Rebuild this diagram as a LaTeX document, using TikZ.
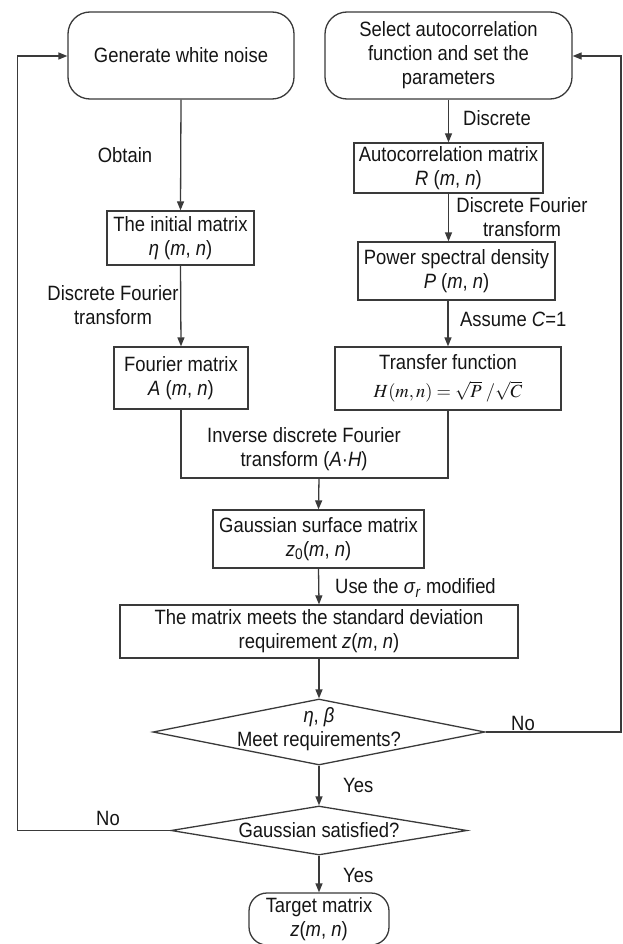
\documentclass[tikz,border=0pt]{standalone}
\usepackage{mathptmx}
\usepackage{fontspec}
\setmainfont{Liberation Sans}[FakeStretch=0.89]
\usetikzlibrary{arrows.meta,shapes.geometric,calc}
\definecolor{ln}{HTML}{3A3A3A}
\definecolor{tx}{HTML}{151515}
\begin{document}
\begin{tikzpicture}[x=1pt,y=-1pt,
  every node/.style={text=tx, font=\fontsize{20.7}{24}\selectfont},
  box/.style={draw=ln, line width=1.3pt, inner sep=0pt, align=center},
  rbox/.style={box, rounded corners=22pt},
  dia/.style={draw=ln, line width=1.3pt, shape=diamond, inner sep=0pt},
  conn/.style={draw=ln, line width=1.3pt},
  arr/.style={conn, -{Triangle[length=9pt,width=7pt]}},
  lbl/.style={inner sep=0pt, align=center}]
\fill[white] (0,0) rectangle (622,944);
\useasboundingbox (0,0) rectangle (622,944);

% nodes
\node[rbox, minimum width=226pt, minimum height=87pt] (gen) at (181,55.5) {Generate white noise};
\node[rbox, minimum width=247pt, minimum height=87pt] (sel) at (448.5,55.5) {Select autocorrelation\\function and set the\\parameters};
\node[box, minimum width=189pt, minimum height=50pt] (auto) at (448.5,168) {Autocorrelation matrix\\\textit{R} (\textit{m}, \textit{n})};
\node[box, minimum width=197pt, minimum height=58pt] (psd) at (456.5,271) {Power spectral density\\\textit{P} (\textit{m}, \textit{n})};
\node[box, minimum width=226pt, minimum height=63pt] (tf) at (448,378.5) {Transfer function\\[4pt]{\fontsize{18.5}{24}\selectfont$H(m,n)=\sqrt{P}\;/\sqrt{C}$}};
\node[box, minimum width=147pt, minimum height=54pt] (init) at (180.5,238) {The initial matrix\\\textit{η} (\textit{m}, \textit{n})};
\node[box, minimum width=134pt, minimum height=62pt] (four) at (181,378) {Fourier matrix\\\textit{A} (\textit{m}, \textit{n})};
\node[box, minimum width=211pt, minimum height=58pt] (gauss) at (318.5,539) {Gaussian surface matrix\\\textit{z}\textsubscript{0}(\textit{m}, \textit{n})};
\node[box, minimum width=398pt, minimum height=53pt] (std) at (319,631.5) {The matrix meets the standard deviation\\requirement \textit{z}(\textit{m}, \textit{n})};
\node[dia, minimum width=332pt, minimum height=66pt] (d1) at (319,732) {};
\node[lbl] (d1t) at (319,729) {\textit{η}, \textit{β}\\Meet requirements?};
\node[dia, minimum width=296pt, minimum height=49pt] (d2) at (319,830.5) {};
\node[lbl] (d2t) at (319,830.5) {Gaussian satisfied?};
\node[box, rounded corners=18pt, minimum width=140pt, minimum height=52pt] (tgt) at (319,919) {Target matrix\\\textit{z}(\textit{m}, \textit{n})};

% connectors
\draw[arr] (gen.south) -- (init.north);
\node[lbl] (l1) at (125,155) {Obtain};
\draw[arr] (sel.south) -- (auto.north);
\node[lbl] (l2) at (497,118) {Discrete};
\draw[arr] (auto.south) -- (auto.south |- psd.north);
\node[lbl] (l3) at (522,217) {Discrete Fourier\\transform};
\draw[arr] (init.south) -- (four.north);
\node[lbl] (l4) at (113,305) {Discrete Fourier\\transform};
\draw[arr] (tf.north |- psd.south) -- (tf.north);
\node[lbl, anchor=west] (l5) at (460,319) {Assume \textit{C}=1};

\coordinate (jl) at (181,478);
\coordinate (jr) at (448,478);
\coordinate (jm) at (319,478);
\draw[conn] (four.south) -- (jl) -- (jr) -- (tf.south);
\draw[arr] (jm) -- (gauss.north);
\node[lbl] (l6) at (304,449) {Inverse discrete Fourier\\transform (\textit{A}·\textit{H})};

\draw[arr] (gauss.south) -- (std.north);
\node[lbl, anchor=west] (l7) at (335,588) {Use the \textit{σ}\textsubscript{\textit{r}} modified};
\draw[arr] (std.south) -- (d1.north);
\draw[arr] (d1.south) -- (d2.north);
\node[lbl, anchor=west] (l8) at (343,785) {Yes};
\draw[arr] (d2.south) -- (tgt.north);
\node[lbl, anchor=west] (l9) at (343,875) {Yes};

\coordinate (rc1) at (621,732);
\coordinate (rc2) at (621,56);
\draw[arr] (d1.east) -- (rc1) -- (rc2) -- (sel.east |- rc2);
\node[lbl] (l10) at (523,723) {No};
\coordinate (lc1) at (17.5,830.5);
\coordinate (lc2) at (17.5,56);
\draw[arr] (d2.west) -- (lc1) -- (lc2) -- (gen.west |- lc2);
\node[lbl] (l11) at (108,818) {No};
\end{tikzpicture}
\end{document}
